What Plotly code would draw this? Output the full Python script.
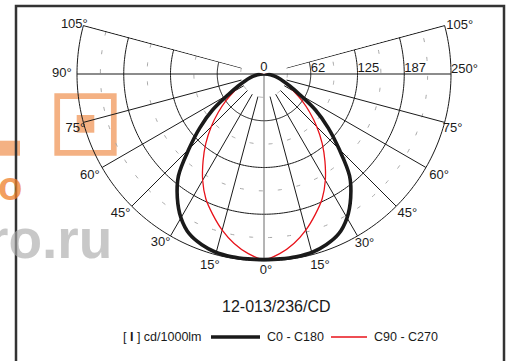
import numpy as np
import plotly.graph_objects as go

# ---------------- data ----------------
gamma = [0, 5, 10, 15, 20, 25, 30, 35, 40, 45, 50, 55, 60, 65, 70, 75, 80, 85, 90]
c0_c180 = [248, 248, 248, 247, 243, 236, 222, 202, 178, 142, 112, 84, 55, 38, 27, 19, 12, 5, 0]
c90_c270 = [248, 241, 230, 216, 200, 184, 164, 142, 121, 100, 80, 62, 46, 34, 24, 17, 10, 4, 0]

ring_values = [62.5, 125, 187.5, 250]
ring_labels = ["62", "125", "187", "250°"]
minor_rings = [31.25, 93.75, 156.25, 218.75]
spoke_angles = [15, 30, 45, 60, 75, 105]
angle_labels_left = [105, 90, 75, 60, 45, 30, 15]
angle_labels_right = [105, 75, 60, 45, 30, 15]
title_text = "12-013/236/CD"
unit_text = "[ <b>I</b> ] cd/1000lm"
series_names = ["C0 - C180", "C90 - C270"]

W, H = 507, 361
FONT = "Liberation Sans, Arial, sans-serif"
INK = "#1a1a1a"
RMAX = ring_values[-1]
RVIEW = 270          # radial axis range (room for outer labels)
PXU = 187 / RMAX     # pixels per unit
CX, CY = 264, 74     # pole position in pixels
SEC = 15.3

fig = go.Figure()

def px_x(v):
    return v / W

def px_y(v):
    return 1 - v / H

# minor dashed rings
arc = np.linspace(-105, 105, 211)
for rv in minor_rings:
    fig.add_trace(go.Scatterpolar(r=[rv] * len(arc), theta=arc, mode="lines",
                                  line=dict(color="#a8a8a8", width=1, dash="4px,15px"),
                                  hoverinfo="skip", cliponaxis=False))
# main rings
for rv in ring_values:
    fig.add_trace(go.Scatterpolar(r=[rv] * len(arc), theta=arc, mode="lines",
                                  line=dict(color=INK, width=1),
                                  hoverinfo="skip", cliponaxis=False))
# spokes
for a in spoke_angles:
    for s in (-1, 1):
        fig.add_trace(go.Scatterpolar(r=[minor_rings[0], RMAX], theta=[s * a, s * a],
                                      mode="lines", line=dict(color=INK, width=1),
                                      hoverinfo="skip", cliponaxis=False))
# horizontal 90 line
fig.add_trace(go.Scatterpolar(r=[RMAX, 0, RMAX], theta=[-90, 0, 90],
                              mode="lines", line=dict(color=INK, width=1.2),
                              hoverinfo="skip", cliponaxis=False))
# vertical 0 line (with stub above centre)
fig.add_trace(go.Scatterpolar(r=[RMAX, 0, 29], theta=[0, 0, 180],
                              mode="lines", line=dict(color="#6a6a6a", width=1),
                              hoverinfo="skip", cliponaxis=False))

# curves
def mirror(vals):
    th = [-g for g in reversed(gamma)] + gamma[1:]
    rr = list(reversed(vals)) + vals[1:]
    return th, rr

th, rr = mirror(c90_c270)
fig.add_trace(go.Scatterpolar(r=rr, theta=th, mode="lines", name=series_names[1],
                              line=dict(color="#e8121a", width=1.3, shape="spline", smoothing=0.8),
                              cliponaxis=False))
th, rr = mirror(c0_c180)
fig.add_trace(go.Scatterpolar(r=rr, theta=th, mode="lines", name=series_names[0],
                              line=dict(color="#1a1a1a", width=3.6, shape="spline", smoothing=1),
                              cliponaxis=False))

# angle labels: (text position, radial factor, angular nudge toward nadir)
place_left = {105: ("top center", 1.04, 2.25), 90: ("middle left", 1.028, 0), 75: ("middle left", 1.0, 2.0),
              60: ("bottom left", 1.015, 0), 45: ("bottom left", 1.01, 0), 30: ("bottom left", 1.0, 0),
              15: ("bottom left", 1.02, 1.6)}
place_right = {105: ("top right", 1.0, 2.0), 75: ("middle right", 1.0, 2.0), 60: ("bottom right", 1.02, 0),
               45: ("bottom right", 1.01, 0), 30: ("bottom right", 1.0, 1.0), 15: ("bottom right", 1.02, 1.0)}
lab_r, lab_t, lab_txt, lab_pos = [], [], [], []
for a in angle_labels_left:
    p, f, n = place_left[a]
    lab_r.append(RMAX * f); lab_t.append(-(a - n)); lab_txt.append(f"{a}°"); lab_pos.append(p)
for a in angle_labels_right:
    p, f, n = place_right[a]
    lab_r.append(RMAX * f); lab_t.append(a - n); lab_txt.append(f"{a}°"); lab_pos.append(p)
lab_r.append(RMAX * 1.016); lab_t.append(0.6); lab_txt.append("0°"); lab_pos.append("bottom center")
fig.add_trace(go.Scatterpolar(r=lab_r, theta=lab_t, text=lab_txt, mode="text",
                              textposition=lab_pos, textfont=dict(family=FONT, size=13, color=INK),
                              hoverinfo="skip", cliponaxis=False))
# ring labels
ring_theta = [90, 89, 89.5, 89.6, 89.2]
fig.add_trace(go.Scatterpolar(r=[0] + ring_values, theta=ring_theta, text=["0"] + ring_labels,
                              mode="text", textposition=["top center"] + ["top right"] * 4,
                              textfont=dict(family=FONT, size=13, color=INK),
                              hoverinfo="skip", cliponaxis=False))

shapes = []
ORANGE = "#f4b183"
# watermark (below)
shapes.append(dict(type="rect", xref="paper", yref="paper", x0=px_x(57.2), x1=px_x(113.8),
                   y0=px_y(152.8), y1=px_y(96.2), line=dict(color=ORANGE, width=5.7),
                   fillcolor="rgba(0,0,0,0)", layer="below"))
shapes.append(dict(type="rect", xref="paper", yref="paper", x0=px_x(76.7), x1=px_x(94.3),
                   y0=px_y(132.7), y1=px_y(115), line=dict(width=0), fillcolor=ORANGE, layer="below"))
shapes.append(dict(type="rect", xref="paper", yref="paper", x0=0, x1=px_x(20),
                   y0=px_y(155.7), y1=px_y(140.7), line=dict(width=0), fillcolor=ORANGE, layer="below"))
# frame
shapes.append(dict(type="rect", xref="paper", yref="paper", x0=px_x(16), x1=px_x(504),
                   y0=px_y(380), y1=px_y(6), line=dict(color="#333333", width=2.5),
                   fillcolor="rgba(0,0,0,0)", layer="above"))
# legend samples
shapes.append(dict(type="line", xref="paper", yref="paper", x0=px_x(211), x1=px_x(260),
                   y0=px_y(337), y1=px_y(337), line=dict(color="#1a1a1a", width=3.5)))
shapes.append(dict(type="line", xref="paper", yref="paper", x0=px_x(331), x1=px_x(367),
                   y0=px_y(337), y1=px_y(337), line=dict(color="#e8121a", width=1.5)))

annotations = [
    dict(text="<b>o</b>", x=px_x(24), y=px_y(186), xref="paper", yref="paper", xanchor="right", yanchor="middle",
         showarrow=False, font=dict(family=FONT, size=40, color="rgba(238,128,42,0.75)")),
    dict(text="<b>ro.ru</b>", x=px_x(114), y=px_y(239), xref="paper", yref="paper", xanchor="right",
         yanchor="middle", showarrow=False, font=dict(family=FONT, size=55, color="rgba(170,170,170,0.65)")),
    dict(text=title_text, x=px_x(276), y=px_y(306), xref="paper", yref="paper", xanchor="center",
         yanchor="middle", showarrow=False, font=dict(family=FONT, size=16, color=INK)),
    dict(text=unit_text, x=px_x(121), y=px_y(337), xref="paper", yref="paper", xanchor="left",
         yanchor="middle", showarrow=False, font=dict(family=FONT, size=12.5, color=INK)),
    dict(text=series_names[0], x=px_x(265), y=px_y(337), xref="paper", yref="paper", xanchor="left",
         yanchor="middle", showarrow=False, font=dict(family=FONT, size=12.5, color=INK)),
    dict(text=series_names[1], x=px_x(372), y=px_y(337), xref="paper", yref="paper", xanchor="left",
         yanchor="middle", showarrow=False, font=dict(family=FONT, size=12.5, color=INK)),
]

rv_px = RVIEW * PXU
fig.update_layout(
    width=W, height=H, margin=dict(l=0, r=0, t=0, b=0),
    paper_bgcolor="white", plot_bgcolor="white", showlegend=False,
    shapes=shapes, annotations=annotations,
    polar=dict(
        domain=dict(x=[px_x(CX - rv_px), px_x(CX + rv_px)],
                    y=[px_y(CY + rv_px), px_y(CY - rv_px * np.sin(np.radians(SEC)))]),
        sector=[-180 - SEC, SEC], bgcolor="rgba(0,0,0,0)",
        radialaxis=dict(range=[0, RVIEW], visible=False),
        angularaxis=dict(rotation=-90, direction="counterclockwise", visible=False),
    ),
)

fig.write_html("out.html", config={"displayModeBar": False, "staticPlot": True},
               post_script="document.body.style.margin='0';document.body.style.overflow='hidden';")
